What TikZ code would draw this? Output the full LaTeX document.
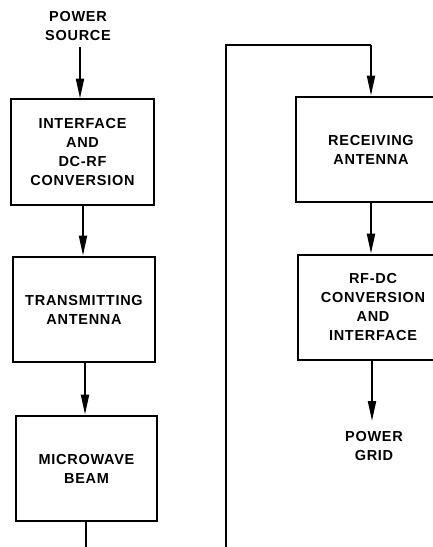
\documentclass[tikz,border=0pt]{standalone}
\usepackage{fontspec}
\setmainfont{Liberation Sans}[LetterSpace=5]
\usetikzlibrary{arrows.meta}
\begin{document}
\begin{tikzpicture}[x=1pt,y=-1pt,
  blk/.style={draw,line width=2.8pt,inner sep=0pt,align=center,font=\fontsize{14.5}{19}\selectfont\bfseries},
  lbl/.style={align=center,font=\fontsize{14.5}{19}\selectfont\bfseries},
  conn/.style={line width=2pt},
  arr/.style={conn,-{Triangle[length=20pt,width=8pt]}}]
\useasboundingbox (0,0) rectangle (433,547);
\clip (0,0) rectangle (433,547);
\node[lbl] (src) at (78,26) {POWER\\SOURCE};
\node[blk,minimum width=143pt,minimum height=106pt] (b1) at (82.5,152) {INTERFACE\\AND\\DC-RF\\CONVERSION};
\node[blk,minimum width=142pt,minimum height=105pt] (b2) at (84,309.5) {TRANSMITTING\\ANTENNA};
\node[blk,minimum width=141pt,minimum height=105pt] (b3) at (86.5,468.5) {MICROWAVE\\BEAM};
\node[blk,minimum width=150pt,minimum height=105pt] (b4) at (371,149.5) {RECEIVING\\ANTENNA};
\node[blk,minimum width=150pt,minimum height=105pt] (b5) at (373,307.5) {RF-DC\\CONVERSION\\AND\\INTERFACE};
\node[lbl] (grid) at (374,446) {POWER\\GRID};
\coordinate (c1) at (86,560);
\coordinate (c2) at (226,560);
\coordinate (c3) at (226,45);
\coordinate (c4) at (b4.north |- c3);
\draw[arr] (80,47) -- (80,98.5);
\draw[arr] (b1.south -| 83,0) -- (b2.north -| 83,0);
\draw[arr] (b2.south -| 85,0) -- (b3.north -| 85,0);
\draw[conn] (b3.south -| c1) -- (c1) -- (c2) -- (c3) -- (c4);
\draw[arr] (c4) -- (b4.north);
\draw[arr] (b4.south) -- (b5.north -| b4.south);
\draw[arr] (b5.south -| 372,0) -- (372,421);
\end{tikzpicture}
\end{document}
